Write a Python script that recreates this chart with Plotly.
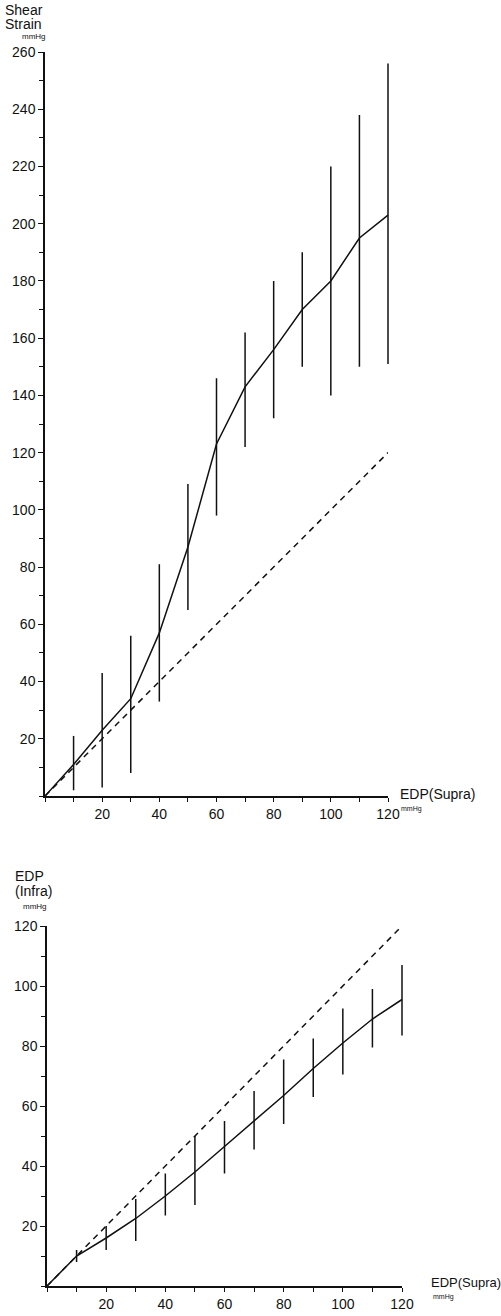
import plotly.graph_objects as go

# ---- data ----
edp_supra = [10, 20, 30, 40, 50, 60, 70, 80, 90, 100, 110, 120]

shear_mean = [11, 23, 34, 57, 87, 123, 143, 156, 170, 180, 195, 203]
shear_upper = [21, 43, 56, 81, 109, 146, 162, 180, 190, 220, 238, 256]
shear_lower = [2, 3, 8, 33, 65, 98, 122, 132, 150, 140, 150, 151]

infra_mean = [10, 16, 22.5, 30, 38, 46.5, 55, 63.5, 72.5, 81, 89, 95.5]
infra_upper = [12, 20, 29, 37.5, 50, 55, 65, 75.5, 82.5, 92.5, 99, 107]
infra_lower = [8, 12, 15, 23.5, 27, 37.5, 45.5, 54, 63, 70.5, 79.5, 83.5]

identity_x = [0, 120]
identity_y = [0, 120]

top_yticks = [20, 40, 60, 80, 100, 120, 140, 160, 180, 200, 220, 240, 260]
bottom_yticks = [20, 40, 60, 80, 100, 120]
xticks = [20, 40, 60, 80, 100, 120]

W, H = 501, 1316
FONT = "Liberation Sans"
BLACK = "#111111"
EXT = 125  # range of hidden helper axes so the last error bar is not clipped

fig = go.Figure()


def add_panel(xa, xa_ext, ya, mean, upper, lower):
    plus = [u - m for u, m in zip(upper, mean)]
    minus = [m - l for m, l in zip(mean, lower)]
    fig.add_trace(go.Scatter(x=identity_x, y=identity_y, mode="lines",
                             line=dict(color=BLACK, width=1.5, dash="6px,5px"),
                             xaxis=xa, yaxis=ya, hoverinfo="skip"))
    fig.add_trace(go.Scatter(x=edp_supra, y=mean, mode="markers",
                             marker=dict(size=1, color=BLACK, opacity=0),
                             error_y=dict(type="data", symmetric=False, array=plus,
                                          arrayminus=minus, width=0,
                                          thickness=1.5, color=BLACK),
                             xaxis=xa_ext, yaxis=ya, cliponaxis=False))
    fig.add_trace(go.Scatter(x=[0] + edp_supra, y=[0] + mean, mode="lines",
                             line=dict(color=BLACK, width=1.5),
                             xaxis=xa_ext, yaxis=ya, cliponaxis=False))


add_panel("x", "x3", "y", shear_mean, shear_upper, shear_lower)
add_panel("x2", "x4", "y2", infra_mean, infra_upper, infra_lower)


def px_x(p):
    return p / W


def px_y(p):
    return 1 - p / H


axis_common = dict(showgrid=False, zeroline=False, showline=True, linecolor=BLACK,
                   linewidth=1.5, ticks="outside", ticklen=5, tickwidth=1.2,
                   tickcolor=BLACK, tickfont=dict(family=FONT, size=14, color=BLACK),
                   automargin=False,
                   minor=dict(ticks="outside", ticklen=4, tickwidth=1.2,
                              tickcolor=BLACK, dtick=10, tick0=0))

top_x0, top_x1 = 45, 388
bot_x0, bot_x1 = 47, 402
top_ext = top_x0 + (top_x1 - top_x0) * EXT / 120
bot_ext = bot_x0 + (bot_x1 - bot_x0) * EXT / 120

fig.update_layout(
    width=W, height=H, margin=dict(l=0, r=0, t=0, b=0, autoexpand=False),
    paper_bgcolor="white", plot_bgcolor="rgba(0,0,0,0)", showlegend=False,
    xaxis=dict(axis_common, domain=[px_x(top_x0), px_x(top_x1)], range=[0, 120],
               tickvals=xticks, anchor="y", ticklen=4),
    yaxis=dict(axis_common, domain=[px_y(796), px_y(52)], range=[0, 260],
               tickvals=top_yticks, anchor="x"),
    xaxis2=dict(axis_common, domain=[px_x(bot_x0), px_x(bot_x1)], range=[0, 120],
                tickvals=xticks, anchor="y2", ticklen=4),
    yaxis2=dict(axis_common, domain=[px_y(1286), px_y(926)], range=[0, 120],
                tickvals=bottom_yticks, anchor="x2"),
    xaxis3=dict(domain=[px_x(top_x0), px_x(top_ext)], range=[0, EXT],
                anchor="y", visible=False),
    xaxis4=dict(domain=[px_x(bot_x0), px_x(bot_ext)], range=[0, EXT],
                anchor="y2", visible=False),
)


def label(text, x, y, size=14, xanchor="left", yanchor="middle"):
    fig.add_annotation(text=text, x=px_x(x), y=px_y(y), xref="paper", yref="paper",
                       xanchor=xanchor, yanchor=yanchor, showarrow=False,
                       font=dict(family=FONT, size=size, color=BLACK), align="left")


label("Shear", 3, 10)
label("Strain", 3, 24)
label("mmHg", 20, 37, size=8)
label("EDP(Supra)", 398, 794)
label("mmHg", 399, 809, size=7)

label("EDP", 13, 876)
label("(Infra)", 13, 891)
label("mmHg", 21, 906, size=8)
label("EDP(Supra)", 429, 1282, size=13)
label("mmHg", 431, 1297, size=7)

post = (
    "document.documentElement.style.margin='0';"
    "document.body.style.margin='0';"
    "document.documentElement.style.overflow='hidden';"
    "document.body.style.overflow='hidden';"
)

fig.write_html("out.html", config={"displayModeBar": False}, post_script=post)
